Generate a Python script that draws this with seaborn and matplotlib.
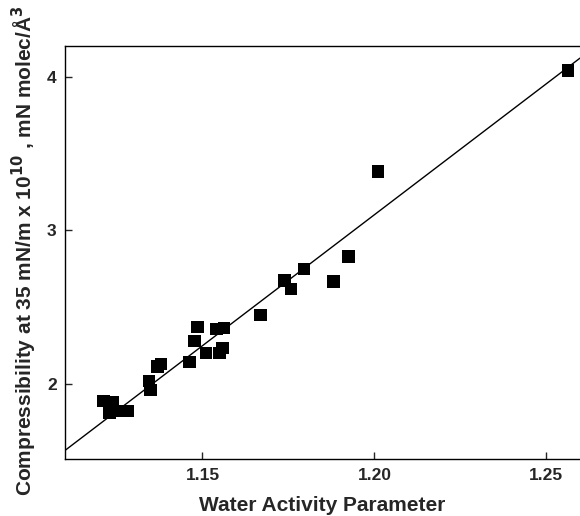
import numpy as np
import pandas as pd
import matplotlib
matplotlib.use("Agg")
import matplotlib.pyplot as plt
import seaborn as sns

# values
water_activity = [1.1212, 1.1238, 1.1229, 1.1252, 1.1282,
                  1.1345, 1.1349, 1.1369, 1.1379, 1.1462,
                  1.1477, 1.1486, 1.1510, 1.1550, 1.1558,
                  1.1541, 1.1562, 1.1669, 1.1739, 1.1758,
                  1.1795, 1.1881, 1.1925, 1.2010, 1.2563]
compressibility = [1.891, 1.881, 1.813, 1.826, 1.824,
                   2.021, 1.961, 2.113, 2.130, 2.145,
                   2.282, 2.373, 2.204, 2.204, 2.236,
                   2.360, 2.365, 2.450, 2.673, 2.617,
                   2.749, 2.667, 2.829, 3.383, 4.041]
x_ticks = [1.15, 1.20, 1.25]
y_ticks = [2, 3, 4]

df = pd.DataFrame({"wap": water_activity, "comp": compressibility})

sns.set_style("ticks")
plt.rcParams["font.family"] = ["Liberation Sans", "DejaVu Sans"]
plt.rcParams["font.weight"] = "bold"

fig = plt.figure(figsize=(5.8, 5.16), dpi=100)
ax = fig.add_axes([0.112, 0.110, 0.888, 0.801])
xlim = (1.110, 1.2598)
ylim = (1.511, 4.20)

# straight-line fit (x regressed on y, then inverted)
b, a = np.polyfit(df["comp"], df["wap"], 1)
fit = pd.DataFrame({"wap": np.linspace(xlim[0], xlim[1], 50)})
fit["comp"] = (fit["wap"] - a) / b
sns.lineplot(data=fit, x="wap", y="comp", ax=ax, color="black", lw=1.0)
sns.scatterplot(data=df, x="wap", y="comp", ax=ax, marker="s", s=80,
                color="black", edgecolor="none", zorder=3)

ax.set_xlim(*xlim)
ax.set_ylim(*ylim)
ax.set_xticks(x_ticks)
ax.set_xticklabels([f"{t:.2f}" for t in x_ticks])
ax.set_yticks(y_ticks)
ax.set_yticklabels([str(t) for t in y_ticks])
ax.tick_params(direction="in", length=5, width=1, labelsize=12.5, pad=6)
for lab in ax.get_xticklabels() + ax.get_yticklabels():
    lab.set_fontweight("bold")

ax.spines["right"].set_visible(False)
for s in ["left", "bottom", "top"]:
    ax.spines[s].set_linewidth(1.0)
    ax.spines[s].set_color("black")

ax.set_xlabel("Water Activity Parameter", fontsize=15, fontweight="bold", labelpad=10)
ax.set_ylabel("Compressibility at 35 mN/m x 10$^{10}$ , mN molec/Å$^3$",
              fontsize=15, fontweight="bold")
ax.yaxis.set_label_coords(-0.05, 0.505)

fig.savefig("out.png", dpi=100)
